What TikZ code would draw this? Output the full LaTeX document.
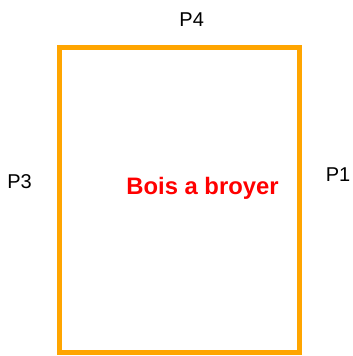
\documentclass[tikz,border=0pt]{standalone}
\usepackage{fontspec}
\setmainfont{Liberation Sans}
\definecolor{frameorange}{RGB}{255,165,0}
\definecolor{labelred}{RGB}{255,0,0}
\begin{document}
\begin{tikzpicture}[x=1pt,y=1pt,
  frame/.style={draw=frameorange,line width=5pt,line join=miter},
  side/.style={inner sep=0pt,anchor=base,font=\fontsize{20}{24}\selectfont},
  title/.style={inner sep=0pt,anchor=base,text=labelred,font=\fontsize{23.8}{28}\selectfont\bfseries}]
\useasboundingbox (0,0) rectangle (353,356);
\draw[frame] (59.5,3) rectangle (299.5,308);
\node[side] (p4) at (191.7,329) {P4};
\node[side] (p3) at (19.5,167.7) {P3};
\node[side] (p1) at (338,174.3) {P1};
\node[title] (bois) at (202.5,161) {Bois a broyer};
\end{tikzpicture}
\end{document}
